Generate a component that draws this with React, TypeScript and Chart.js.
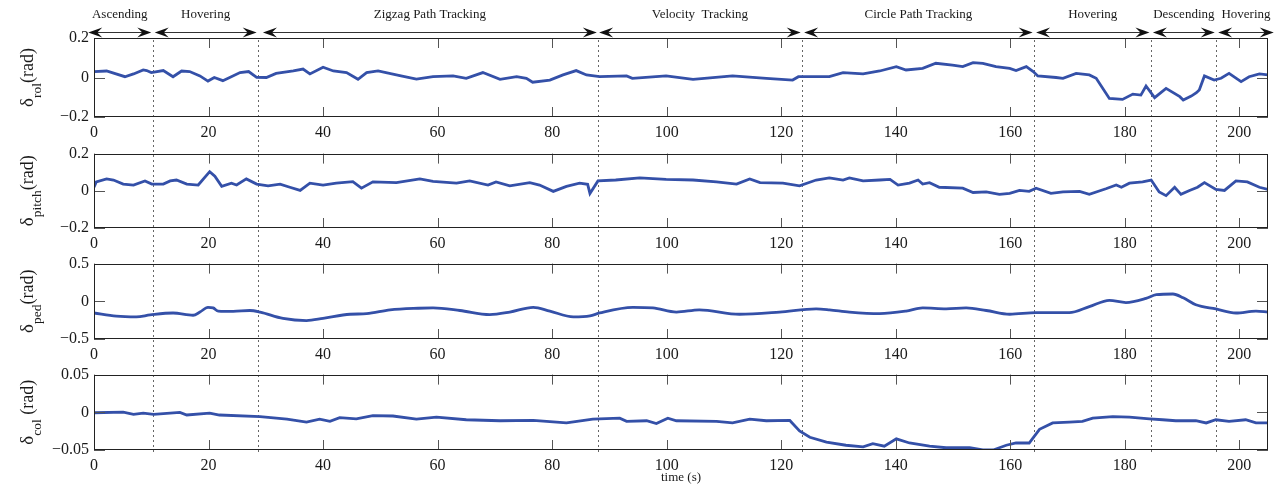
import React, { useEffect, useRef } from 'react';
import { Chart, registerables } from 'chart.js';

Chart.register(...registerables);

// ---------- data ----------
const timeMin = 0;
const timeMax = 205;
const timeStep = 20;

const phaseNames = ['Ascending', 'Hovering', 'Zigzag Path Tracking', 'Velocity  Tracking', 'Circle Path Tracking', 'Hovering', 'Descending', 'Hovering'];
const phaseStart = [-1, 10.6, 29.5, 88.2, 124.0, 164.5, 184.9, 196.3];
const phaseEnd = [10.0, 28.4, 87.8, 123.4, 163.9, 184.3, 195.7, 206.0];
const phaseBoundaries = [10.3, 28.6, 88.0, 123.7, 164.2, 184.6, 196.0];

const rolData = [
  [0, 0.03], [2.2, 0.033], [5.4, 0.004], [6.9, 0.018], [8.6, 0.038], [9.2, 0.035], [10, 0.025], [12.1, 0.035],
  [13.8, 0.004], [15.3, 0.033], [16.7, 0.03], [18.5, 0.008], [19.9, -0.018], [21, 0], [22.5, -0.016], [23.7, 0],
  [25.5, 0.025], [27, 0.03], [28.4, 0.001], [30.1, 0], [31.8, 0.021], [34.8, 0.033], [36.5, 0.043], [37.7, 0.018],
  [40, 0.052], [41.8, 0.033], [44.1, 0.025], [46.1, -0.009], [47.6, 0.025], [49.6, 0.033], [53.4, 0.01], [56.3, -0.008],
  [59.2, 0.004], [62.7, 0.008], [65, -0.004], [67.9, 0.025], [70.9, -0.009], [73.8, 0.004], [75.5, -0.004], [76.6, -0.024],
  [79.6, -0.013], [81.9, 0.013], [84.2, 0.035], [86, 0.013], [88.3, 0.004], [93, 0.008], [94, -0.004], [99.9, 0.008],
  [104.6, -0.009], [111.5, 0.008], [117.4, -0.004], [122, -0.013], [123, 0.004], [128.4, 0.004], [130.8, 0.025], [134.3, 0.018],
  [137.2, 0.033], [140.1, 0.055], [141.8, 0.038], [144.7, 0.046], [147, 0.072], [149.9, 0.063], [151.7, 0.055], [153.5, 0.075],
  [155.2, 0.072], [157.5, 0.055], [159.9, 0.046], [161, 0.035], [162.8, 0.055], [164, 0.03], [164.8, 0.008], [168, 0],
  [169.2, -0.004], [171.5, 0.021], [173.8, 0.013], [175, -0.004], [177.3, -0.106], [179.6, -0.111], [181.4, -0.084], [182.8, -0.089],
  [183.7, -0.043], [185.2, -0.102], [187.2, -0.055], [189.6, -0.097], [190.2, -0.114], [191.6, -0.094], [192.5, -0.077], [193, -0.063],
  [193.9, 0.008], [195.6, -0.013], [196.8, -0.004], [198.2, 0.021], [200.3, -0.021], [201.7, 0.004], [203.5, 0.018], [205, 0.013],
];

const pitchData = [
  [0, 0.019], [0.4, 0.048], [2.2, 0.064], [3.4, 0.058], [5.1, 0.036], [6.9, 0.031], [8.9, 0.053], [10.1, 0.036],
  [12.1, 0.036], [13.3, 0.053], [14.4, 0.058], [16.2, 0.036], [18.2, 0.031], [20.2, 0.103], [21.1, 0.078], [22.3, 0.024],
  [24, 0.041], [24.9, 0.031], [26.6, 0.064], [28.4, 0.036], [30.4, 0.027], [32.5, 0.036], [34.2, 0.019], [36, 0.002],
  [37.7, 0.041], [40, 0.031], [42.3, 0.041], [45.2, 0.049], [46.7, 0.014], [48.7, 0.048], [52.8, 0.044], [56.9, 0.064],
  [59.2, 0.051], [63.3, 0.041], [65.6, 0.053], [68.8, 0.031], [70.2, 0.048], [72.6, 0.027], [76.1, 0.044], [77.8, 0.031],
  [80.2, -0.003], [82.5, 0.024], [84.8, 0.041], [86.2, 0.035], [86.6, -0.014], [88, 0.053], [91.1, 0.058], [95.3, 0.069],
  [99.9, 0.061], [104.6, 0.058], [108.7, 0.048], [112.2, 0.036], [114.5, 0.064], [116.3, 0.044], [120.3, 0.041], [123.2, 0.027],
  [126.1, 0.058], [128.4, 0.069], [130.8, 0.058], [131.9, 0.069], [134.3, 0.053], [137.2, 0.058], [139, 0.061], [140.4, 0.031],
  [142.4, 0.041], [143.9, 0.058], [144.7, 0.036], [145.9, 0.044], [147.6, 0.019], [151.7, 0.014], [153.5, -0.009], [155.8, -0.006],
  [158.1, -0.019], [159.9, -0.014], [161.6, 0.002], [163.3, -0.003], [164.5, 0.014], [167.1, -0.014], [169.2, -0.006], [172.1, -0.003],
  [173.8, -0.019], [176.7, 0.011], [178.5, 0.031], [179.4, 0.019], [180.8, 0.041], [183.1, 0.048], [184.6, 0.058], [186, -0.006],
  [187.2, -0.026], [188.7, 0.019], [189.8, -0.019], [191.3, 0.002], [192.7, 0.019], [193.9, 0.044], [195.9, 0.007], [197.4, 0.002],
  [199.4, 0.053], [201.4, 0.048], [203.5, 0.019], [205, 0.007],
];

const pedData = [
  [0, -0.155], [3.9, -0.197], [7.4, -0.206], [9.8, -0.181], [13.8, -0.155], [17.3, -0.185], [18.5, -0.143], [19.9, -0.08],
  [20.8, -0.088], [21.7, -0.13], [24.3, -0.134], [27.2, -0.122], [29, -0.143], [33, -0.227], [37.1, -0.256], [40, -0.227],
  [44.7, -0.172], [47.6, -0.164], [51.7, -0.113], [56.6, -0.092], [59.2, -0.088], [63.9, -0.122], [69.1, -0.176], [72.6, -0.143],
  [76.7, -0.08], [79.6, -0.13], [83.7, -0.206], [86.6, -0.193], [88.3, -0.155], [94.1, -0.08], [97.6, -0.088], [101.7, -0.143],
  [105.7, -0.113], [112.7, -0.172], [119.7, -0.143], [126.1, -0.101], [128.4, -0.113], [131.9, -0.143], [137.2, -0.164], [141.8, -0.13],
  [144.7, -0.088], [148.8, -0.101], [152.3, -0.088], [155.8, -0.122], [159.9, -0.172], [164.5, -0.151], [170.3, -0.151], [173.8, -0.071],
  [177.3, 0.013], [180.2, -0.017], [183.7, 0.038], [185.5, 0.088], [188.4, 0.097], [190.2, 0.046], [192.4, -0.046], [195.9, -0.101],
  [199.4, -0.155], [202.9, -0.13], [205, -0.143],
];

const colData = [
  [0, -0.0006], [5.1, 0.0002], [6.9, -0.0027], [8.6, -0.001], [10.4, -0.0027], [15, -0.0002], [16.2, -0.0036], [20.2, -0.001],
  [21.9, -0.0036], [29, -0.0057], [33.7, -0.0091], [37.1, -0.0129], [39.4, -0.0091], [41.2, -0.012], [42.9, -0.007], [45.8, -0.0087],
  [48.7, -0.0044], [52.2, -0.0049], [56.3, -0.0091], [59.8, -0.0065], [65, -0.0099], [70.9, -0.0112], [76.7, -0.0108], [82.5, -0.0141],
  [87.1, -0.0091], [91.8, -0.0078], [93, -0.012], [96.5, -0.0112], [98.2, -0.015], [100.2, -0.0078], [101.7, -0.0112], [108.7, -0.012],
  [111.5, -0.0141], [114.5, -0.0091], [117.4, -0.0112], [121.5, -0.0108], [123.2, -0.0247], [125, -0.0331], [127.9, -0.0395], [131.3, -0.0437],
  [134.3, -0.0458], [136, -0.0416], [138, -0.0449], [140.1, -0.0352], [142.4, -0.0407], [145.9, -0.0449], [148.8, -0.047], [152.9, -0.047],
  [155.2, -0.05], [157, -0.05], [159.3, -0.0437], [161, -0.0407], [163.3, -0.0407], [165.1, -0.0226], [167.4, -0.0141], [170.3, -0.0129],
  [172.6, -0.012], [174.4, -0.0078], [177.9, -0.0057], [180.8, -0.0065], [184.3, -0.0087], [186.6, -0.0099], [188.9, -0.0112], [192.4, -0.0112],
  [194.2, -0.0141], [195.9, -0.0099], [198.2, -0.012], [201.1, -0.0099], [202.9, -0.0141], [205, -0.0141],
];

const yLimits = [[-0.2, 0.2], [-0.2, 0.2], [-0.5, 0.5], [-0.05, 0.05]];
const ySteps = [0.2, 0.2, 0.5, 0.05];
const ySubs = ['rol', 'pitch', 'ped', 'col'];
const yUnits = ['(rad)', '(rad)', '(rad)', ' (rad)'];
const xTitle = 'time (s)';

const seriesList = [rolData, pitchData, pedData, colData];

// ---------- layout / style ----------
const W = 1282;
const canvasTop = [0, 139, 249, 360];
const canvasH = [139, 110, 111, 131];
const padTop = [38, 10, 11, 11];
const xAxisH = [22, 21, 21, 41];
const yAxisW = 94;
const padRight = 14;
const SERIF = '"Liberation Serif", "Times New Roman", serif';
const LINE = '#3450a8';
const TEXT = '#1a1a1a';

function fmt(v: number): string {
  if (Math.abs(v) < 1e-9) return '0';
  const s = String(Number(Math.abs(v).toFixed(3)));
  return (v < 0 ? '\u2212' : '') + s;
}

function arrowHead(ctx: CanvasRenderingContext2D, tipX: number, y: number, dir: number) {
  const L = 14, H = 5, N = 9;
  ctx.beginPath();
  ctx.moveTo(tipX, y);
  ctx.lineTo(tipX - dir * L, y - H);
  ctx.lineTo(tipX - dir * N, y);
  ctx.lineTo(tipX - dir * L, y + H);
  ctx.closePath();
  ctx.fill();
}

function makePlugin(i: number) {
  const last = seriesList.length - 1;
  return {
    id: 'frame' + i,
    beforeDatasetsDraw(chart: any) {
      const { ctx, chartArea } = chart;
      const x = chart.scales.x;
      const y0 = i === 0 ? chartArea.top : 0;
      const y1 = i === last ? chartArea.bottom + 2 : chart.height;
      ctx.save();
      ctx.strokeStyle = '#666';
      ctx.lineWidth = 1;
      ctx.setLineDash([2, 3]);
      ctx.lineDashOffset = (canvasTop[i] + y0) % 5;
      phaseBoundaries.forEach((b) => {
        const px = Math.round(x.getPixelForValue(b)) + 0.5;
        ctx.beginPath();
        ctx.moveTo(px, y0);
        ctx.lineTo(px, y1);
        ctx.stroke();
      });
      ctx.restore();
    },
    afterDraw(chart: any) {
      const { ctx, chartArea } = chart;
      const { left, right, top, bottom } = chartArea;
      const x = chart.scales.x;
      const y = chart.scales.y;
      ctx.save();
      // ticks inside
      ctx.strokeStyle = '#555';
      ctx.lineWidth = 1;
      x.ticks.forEach((t: any) => {
        const px = Math.round(x.getPixelForValue(t.value)) + 0.5;
        ctx.beginPath();
        ctx.moveTo(px, bottom);
        ctx.lineTo(px, bottom - 10);
        ctx.moveTo(px, top);
        ctx.lineTo(px, top + 10);
        ctx.stroke();
      });
      y.ticks.forEach((t: any) => {
        const py = Math.round(y.getPixelForValue(t.value)) + 0.5;
        ctx.beginPath();
        ctx.moveTo(left, py);
        ctx.lineTo(left + 11, py);
        ctx.moveTo(right, py);
        ctx.lineTo(right - 11, py);
        ctx.stroke();
      });
      // box
      ctx.strokeStyle = '#222';
      ctx.strokeRect(Math.round(left) + 0.5, Math.round(top) + 0.5, Math.round(right - left) - 1, Math.round(bottom - top) - 1);

      // y title with subscript
      const mainFont = '18px ' + SERIF;
      const deltaFont = '19px ' + SERIF;
      const subFont = '13.5px ' + SERIF;
      ctx.fillStyle = TEXT;
      ctx.font = deltaFont;
      const wd = ctx.measureText('\u03b4').width;
      ctx.font = subFont;
      const ws = ctx.measureText(ySubs[i]).width;
      ctx.font = mainFont;
      const wu = ctx.measureText(yUnits[i]).width;
      const total = wd + ws + wu;
      const cy = (top + bottom) / 2;
      ctx.translate(33, cy);
      ctx.rotate(-Math.PI / 2);
      ctx.textBaseline = 'alphabetic';
      ctx.textAlign = 'left';
      let px = -total / 2;
      ctx.font = deltaFont;
      ctx.fillText('\u03b4', px, 0);
      px += wd;
      ctx.font = subFont;
      ctx.fillText(ySubs[i], px, 8);
      px += ws;
      ctx.font = mainFont;
      ctx.fillText(yUnits[i], px, 0);
      ctx.restore();

      // phase annotation (top chart)
      if (i === 0) {
        ctx.save();
        const ay = top - 6;
        ctx.strokeStyle = '#333';
        ctx.fillStyle = '#111';
        ctx.lineWidth = 1;
        ctx.font = '13px ' + SERIF;
        ctx.textAlign = 'center';
        ctx.textBaseline = 'middle';
        phaseNames.forEach((name, k) => {
          const xs = x.getPixelForValue(phaseStart[k]);
          const xe = x.getPixelForValue(phaseEnd[k]);
          ctx.beginPath();
          ctx.moveTo(xs + 4, ay + 0.5);
          ctx.lineTo(xe - 4, ay + 0.5);
          ctx.stroke();
          arrowHead(ctx, xs, ay + 0.5, -1);
          arrowHead(ctx, xe, ay + 0.5, 1);
          ctx.fillStyle = TEXT;
          ctx.fillText(name, (xs + xe) / 2, top - 23);
          ctx.fillStyle = '#111';
        });
        ctx.restore();
      }
      // x title (bottom chart)
      if (i === last) {
        ctx.save();
        ctx.fillStyle = TEXT;
        ctx.font = '13px ' + SERIF;
        ctx.textAlign = 'center';
        ctx.textBaseline = 'middle';
        ctx.fillText(xTitle, (left + right) / 2, bottom + 28);
        ctx.restore();
      }
    },
  };
}

function makeConfig(i: number): any {
  const data = seriesList[i].map(([t, v]) => ({ x: t, y: v }));
  const smooth = i === 2;
  return {
    type: 'line',
    data: {
      datasets: [
        {
          data,
          borderColor: LINE,
          borderWidth: 2.8,
          pointRadius: 0,
          fill: false,
          tension: smooth ? 0.4 : 0,
          cubicInterpolationMode: smooth ? 'monotone' : 'default',
        },
      ],
    },
    options: {
      animation: false,
      responsive: false,
      devicePixelRatio: 1,
      layout: { padding: { top: padTop[i], right: padRight, left: 0, bottom: 0 } },
      plugins: { legend: { display: false }, tooltip: { enabled: false }, title: { display: false } },
      scales: {
        x: {
          type: 'linear',
          min: timeMin,
          max: timeMax,
          grid: { display: false, drawTicks: false },
          border: { display: false },
          ticks: {
            stepSize: timeStep,
            includeBounds: false,
            autoSkip: false,
            maxRotation: 0,
            padding: 6,
            color: TEXT,
            font: { family: SERIF, size: 16 },
            callback: (v: number) => String(v),
          },
          afterFit: (s: any) => {
            s.height = xAxisH[i];
          },
        },
        y: {
          type: 'linear',
          min: yLimits[i][0],
          max: yLimits[i][1],
          grid: { display: false, drawTicks: false },
          border: { display: false },
          ticks: {
            stepSize: ySteps[i],
            padding: 5,
            color: TEXT,
            font: { family: SERIF, size: 16 },
            callback: (v: number) => fmt(v),
          },
          afterFit: (s: any) => {
            s.width = yAxisW;
          },
        },
      },
    },
    plugins: [makePlugin(i)],
  };
}

export default function App() {
  const refs = useRef<(HTMLCanvasElement | null)[]>([]);
  useEffect(() => {
    const charts = seriesList.map((_, i) => new Chart(refs.current[i] as HTMLCanvasElement, makeConfig(i)));
    return () => charts.forEach((c) => c.destroy());
  }, []);
  return (
    <div style={{ position: 'absolute', left: 0, top: 0, width: W, height: 491, background: '#fff' }}>
      {seriesList.map((_, i) => (
        <canvas
          key={i}
          ref={(el) => {
            refs.current[i] = el;
          }}
          width={W}
          height={canvasH[i]}
          style={{ position: 'absolute', left: 0, top: canvasTop[i], width: W, height: canvasH[i], display: 'block' }}
        />
      ))}
    </div>
  );
}
